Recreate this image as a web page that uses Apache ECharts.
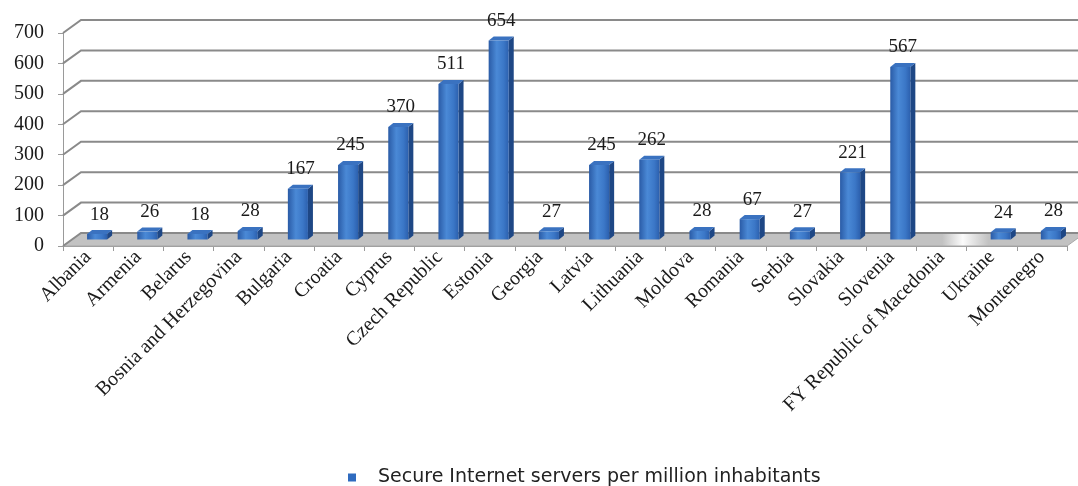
<!DOCTYPE html>
<html><head><meta charset="utf-8">
<script src="https://cdn.jsdelivr.net/npm/echarts@6/dist/echarts.min.js"></script>
<style>html,body{margin:0;padding:0;background:#fff}#c{width:1078px;height:486px}</style>
</head><body><div id="c"></div>
<script>
const categories = ['Albania','Armenia','Belarus','Bosnia and Herzegovina','Bulgaria','Croatia','Cyprus','Czech Republic','Estonia','Georgia','Latvia','Lithuania','Moldova','Romania','Serbia','Slovakia','Slovenia','FY Republic of Macedonia','Ukraine','Montenegro'];
const values = [18,26,18,28,167,245,370,511,654,27,245,262,28,67,27,221,567,null,24,28];
const yTicks = [0,100,200,300,400,500,600,700];
const seriesName = 'Secure Internet servers per million inhabitants';

const DX = 18, DY = 13;       // 3D depth of the plot box
const BX = 5, BY = 4;         // 3D depth of each bar
const serif = 'Liberation Serif';

const chart = echarts.init(document.getElementById('c'));

const missingIdx = values.findIndex(v => v == null);
function floorFill() {
  const n = categories.length;
  const stops = [{offset:0,color:'#c2c2c2'}];
  if (missingIdx >= 0) {
    const a = (missingIdx + 0.2) / n, b = (missingIdx + 0.6) / n, c = (missingIdx + 1.1) / n;
    stops.push({offset:a,color:'#c2c2c2'},{offset:b,color:'#fbfbfb'},{offset:c,color:'#c2c2c2'});
  }
  stops.push({offset:1,color:'#c2c2c2'});
  return new echarts.graphic.LinearGradient(0,0,1,0,stops);
}

function renderWalls(params, api) {
  const cs = params.coordSys;
  const xl = cs.x, xr = cs.x + cs.width;
  const y0 = api.coord([0, 0])[1];
  const children = [{
    type:'polygon',
    shape:{points:[[xl,y0],[xr,y0],[xr+DX,y0-DY],[xl+DX,y0-DY]]},
    style:{fill:floorFill(), stroke:'#a8a8a8', lineWidth:1}
  }];
  yTicks.forEach(t => {
    const y = api.coord([0, t])[1];
    children.push({type:'polyline', shape:{points:[[xl,y],[xl+DX,y-DY],[xr+DX,y-DY]]},
      style:{stroke:'#8a8a8a', lineWidth:2, fill:null}});
  });
  return {type:'group', children};
}

function renderBar(params, api) {
  const v = api.value(1);
  if (v == null || isNaN(v)) return;
  const idx = api.value(0);
  const base = api.coord([idx, 0]);
  const top = api.coord([idx, v]);
  const band = api.size([1, 0])[0];
  const w = band * 0.4;
  const cx = base[0] + DX / 2;
  const x0 = cx - w / 2, x1 = cx + w / 2;
  const yb = base[1] - DY / 2, yt = top[1] - DY / 2;
  const front = new echarts.graphic.LinearGradient(0,0,1,0,[
    {offset:0,color:'#2a5ba6'},{offset:0.4,color:'#4a89d6'},{offset:0.75,color:'#3b77c7'},{offset:1,color:'#2c60ae'}]);
  return {type:'group', children:[
    {type:'polygon', shape:{points:[[x1,yb],[x1+BX,yb-BY],[x1+BX,yt-BY],[x1,yt]]}, style:{fill:'#1e4785'}},
    {type:'polygon', shape:{points:[[x0,yt],[x1,yt],[x1+BX,yt-BY],[x0+BX,yt-BY]]}, style:{fill:'#3a72c0'}},
    {type:'rect', shape:{x:x0, y:yt, width:w, height:yb-yt}, style:{fill:front}},
    {type:'text', x:cx + BX/2, y:yt - BY - 6,
      style:{text:String(v), fill:'#1a1a1a', font:'19px "' + serif + '"', align:'center', verticalAlign:'bottom'}}
  ]};
}

chart.setOption({
  animation:false,
  grid:{left:63, right:11, top:33, bottom:240, containLabel:false},
  legend:{left:343, top:463, icon:'rect', itemWidth:8, itemHeight:8,
    data:[seriesName],
    textStyle:{fontFamily:'DejaVu Sans', fontSize:19, color:'#222', padding:[0,0,0,17]}},
  xAxis:{type:'category', data:categories,
    axisLine:{lineStyle:{color:'#9a9a9a', width:1}},
    axisTick:{show:true, length:5, lineStyle:{color:'#9a9a9a'}},
    axisLabel:{interval:0, rotate:45, margin:8, fontFamily:serif, fontSize:20, color:'#1a1a1a'},
    splitLine:{show:false}},
  yAxis:{type:'value', min:0, max:700, interval:100,
    axisLine:{show:true, lineStyle:{color:'#9a9a9a', width:1}},
    axisTick:{show:true, length:5, lineStyle:{color:'#9a9a9a'}},
    axisLabel:{margin:19, fontFamily:serif, fontSize:20, color:'#1a1a1a'},
    splitLine:{show:false}},
  series:[
    {type:'custom', name:'walls', data:[[0,0]], renderItem:renderWalls, clip:false, silent:true, z:1,
      encode:{x:0,y:1}},
    {type:'custom', name:seriesName, data:values.map((v,i)=>[i, v]), renderItem:renderBar, clip:false, z:3,
      itemStyle:{color:'#2f6bbf'}, encode:{x:0,y:1}}
  ]
});
</script></body></html>
